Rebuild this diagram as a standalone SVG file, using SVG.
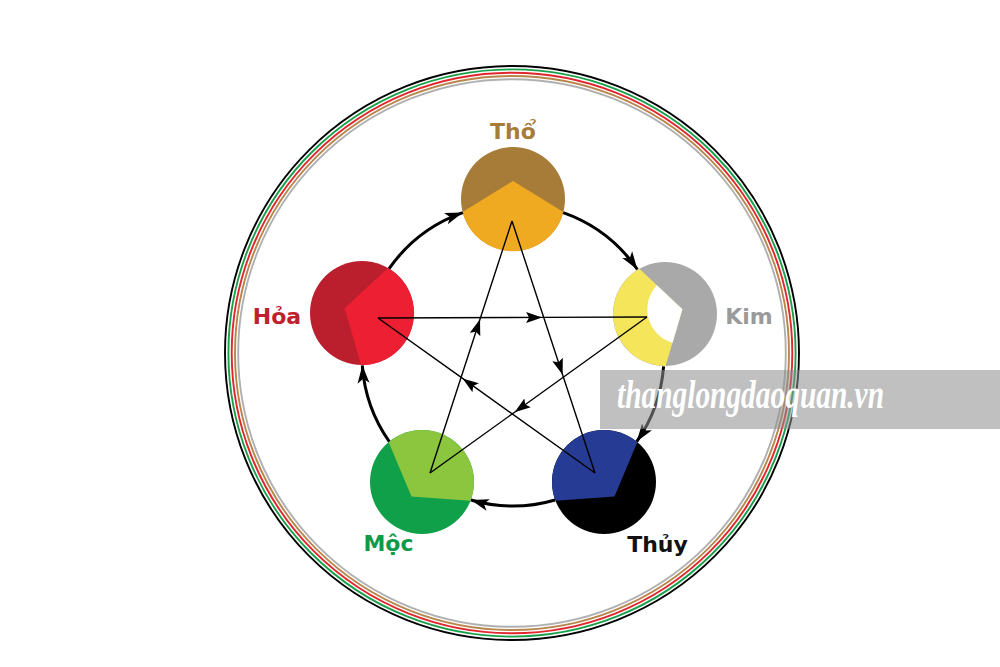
<svg xmlns="http://www.w3.org/2000/svg" width="1000" height="667" viewBox="0 0 1000 667">
  <style>
    .lbl { font-family: "DejaVu Sans", "Liberation Sans", sans-serif; font-weight: bold; font-size: 22px; text-anchor: middle; }
    .ring { fill: none; stroke-width: 1.9; }
    .cycle { fill: none; stroke: #000; stroke-width: 3; marker-end: url(#bigArrow); }
    .star { fill: none; stroke: #000; stroke-width: 1.4; marker-mid: url(#smallArrow); }
  </style>
  <defs>
    <marker id="bigArrow" markerUnits="userSpaceOnUse" markerWidth="20" markerHeight="14" refX="18" refY="7" orient="auto">
      <path d="M0,1 L18,7 L0,13 L4.5,7 Z" fill="#000"/>
    </marker>
    <marker id="smallArrow" markerUnits="userSpaceOnUse" markerWidth="17" markerHeight="12" refX="16" refY="6" orient="auto">
      <path d="M0,0.5 L16,6 L0,11.5 L3,6 Z" fill="#000"/>
    </marker>
  </defs>
  <rect width="1000" height="667" fill="#fff"/>

  <g id="outer-ring">
    <circle class="ring" cx="512" cy="353" r="287" stroke="#000" stroke-width="2.2"/>
    <circle class="ring" cx="512" cy="353" r="283.6" stroke="#1aa04a"/>
    <circle class="ring" cx="512" cy="353" r="280.3" stroke="#e0272d"/>
    <circle class="ring" cx="512" cy="353" r="277" stroke="#b8864b"/>
    <circle class="ring" cx="512" cy="353" r="273.8" stroke="#b0b0b0" stroke-width="2.2"/>
  </g>

  <g id="node-tho">
    <circle cx="513" cy="199" r="52" fill="#a67c38"/>
    <path d="M462.6,212 L513,181 L563.4,212 A52,52 0 0 1 462.6,212 Z" fill="#f0aa22"/>
    <text class="lbl" x="513" y="139" fill="#a67c38">Thổ</text>
  </g>

  <g id="node-kim">
    <circle cx="665" cy="314" r="52" fill="#a9a9a9"/>
    <path d="M639.4,268.8 L682.4,309.3 L665.6,366 A52,52 0 0 1 639.4,268.8 Z" fill="#f5e55a"/>
    <path d="M682.4,309.3 L656.9,285.3 A35,35 0 0 0 672.5,342.9 Z" fill="#fff"/>
    <text class="lbl" x="749" y="324" fill="#9a9a9a">Kim</text>
  </g>

  <g id="node-thuy">
    <circle cx="604" cy="482" r="52" fill="#000"/>
    <path d="M637.4,442.1 L614.5,496.6 L555.5,500.8 A52,52 0 0 1 637.4,442.1 Z" fill="#263b93"/>
    <text class="lbl" x="657.5" y="552" fill="#111">Thủy</text>
  </g>

  <g id="node-moc">
    <circle cx="422" cy="482" r="52" fill="#10a049"/>
    <path d="M470.5,500.8 L411.5,496.6 L388.6,442.1 A52,52 0 0 1 470.5,500.8 Z" fill="#8cc63f"/>
    <text class="lbl" x="388.5" y="551" fill="#0e9a48">Mộc</text>
  </g>

  <g id="node-hoa">
    <circle cx="362" cy="313" r="52" fill="#bb1f2d"/>
    <path d="M361.1,365 L344.7,308.2 L388,268 A52,52 0 0 1 361.1,365 Z" fill="#ed1f33"/>
    <text class="lbl" x="277" y="324" fill="#c0202e">Hỏa</text>
  </g>

  <g id="connectors">
    <path class="cycle" d="M389.1,268.7 A151,151 0 0 1 462.8,212.6"/>
    <path class="cycle" d="M563.2,212.6 A151,151 0 0 1 637.4,269.5"/>
    <path class="cycle" d="M663.6,366.3 A151,151 0 0 1 636.7,441.6"/>
    <path class="cycle" d="M555.1,500 A151,151 0 0 1 470.9,500"/>
    <path class="cycle" d="M389.3,441.6 A151,151 0 0 1 362.3,365.3"/>

    <polyline class="star" points="512,221 562.6,374.7 595,473"/>
    <polyline class="star" points="595,473 462.6,378.4 378,318"/>
    <polyline class="star" points="378,318 542.1,317.4 647,317"/>
    <polyline class="star" points="647,317 514.6,412.2 430,473"/>
    <polyline class="star" points="430,473 480,319.3 512,221"/>
  </g>

  <g id="watermark">
    <rect x="600" y="370" width="400" height="59" fill="#8f8f8f" fill-opacity="0.56"/>
    <text x="617" y="408" font-family="Liberation Serif, serif" font-style="italic" font-weight="bold" font-size="39" fill="#fff" textLength="267" lengthAdjust="spacingAndGlyphs">thanglongdaoquan.vn</text>
  </g>
</svg>
